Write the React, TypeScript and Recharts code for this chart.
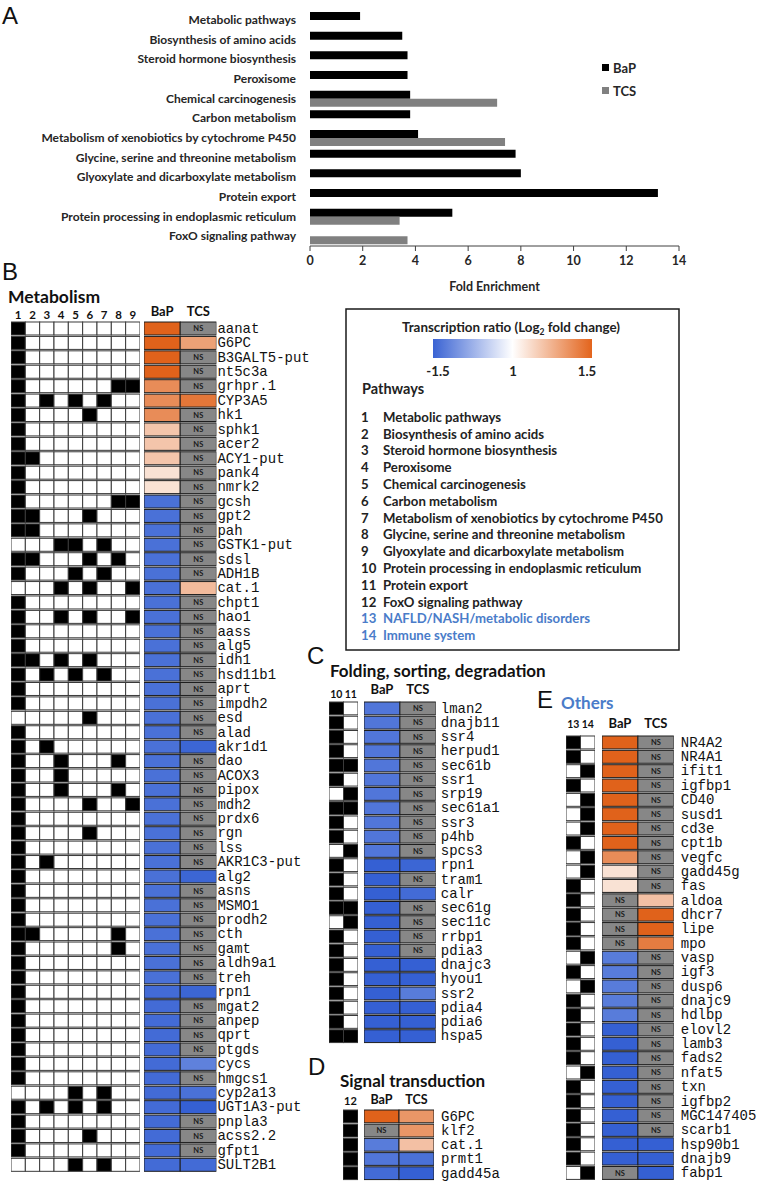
import React from 'react';
import { BarChart, Bar, XAxis, YAxis, Legend } from 'recharts';

// ---------------- Panel A : pathway fold enrichment ----------------
const pathwayNames = [
  'Metabolic pathways',
  'Biosynthesis of amino acids',
  'Steroid hormone biosynthesis',
  'Peroxisome',
  'Chemical carcinogenesis',
  'Carbon metabolism',
  'Metabolism of xenobiotics by cytochrome P450',
  'Glycine, serine and threonine metabolism',
  'Glyoxylate and dicarboxylate metabolism',
  'Protein export',
  'Protein processing in endoplasmic reticulum',
  'FoxO signaling pathway',
];
const bapFold = [1.9, 3.5, 3.7, 3.7, 3.8, 3.8, 4.1, 7.8, 8.0, 13.2, 5.4, null];
const tcsFold = [null, null, null, null, 7.1, null, 7.4, null, null, null, 3.4, 3.7];
const foldTicks = [0, 2, 4, 6, 8, 10, 12, 14];
const bandEdges = [0, 1, 2, 3, 4, 5, 6, 7, 8, 9, 10, 11, 12];

// ---------------- Legend box ----------------
const legendPathways = [
  'Metabolic pathways',
  'Biosynthesis of amino acids',
  'Steroid hormone biosynthesis',
  'Peroxisome',
  'Chemical carcinogenesis',
  'Carbon metabolism',
  'Metabolism of xenobiotics by cytochrome P450',
  'Glycine, serine and threonine metabolism',
  'Glyoxylate and dicarboxylate metabolism',
  'Protein processing in endoplasmic reticulum',
  'Protein export',
  'FoxO signaling pathway',
  'NAFLD/NASH/metabolic disorders',
  'Immune system',
];
const colorbarLabels = ['-1.5', '1', '1.5'];
const heatHeaders = ['BaP', 'TCS'];

// ---------------- Panel B : Metabolism ----------------
const genesB = [
  'aanat', 'G6PC', 'B3GALT5-put', 'nt5c3a', 'grhpr.1', 'CYP3A5', 'hk1', 'sphk1', 'acer2', 'ACY1-put',
  'pank4', 'nmrk2', 'gcsh', 'gpt2', 'pah', 'GSTK1-put', 'sdsl', 'ADH1B', 'cat.1', 'chpt1',
  'hao1', 'aass', 'alg5', 'idh1', 'hsd11b1', 'aprt', 'impdh2', 'esd', 'alad', 'akr1d1',
  'dao', 'ACOX3', 'pipox', 'mdh2', 'prdx6', 'rgn', 'lss', 'AKR1C3-put', 'alg2', 'asns',
  'MSMO1', 'prodh2', 'cth', 'gamt', 'aldh9a1', 'treh', 'rpn1', 'mgat2', 'anpep', 'qprt',
  'ptgds', 'cycs', 'hmgcs1', 'cyp2a13', 'UGT1A3-put', 'pnpla3', 'acss2.2', 'gfpt1', 'SULT2B1',
];
const pathwaysB = ['1', '2', '3', '4', '5', '6', '7', '8', '9'];
const memberB = [
  [1, 0, 0, 0, 0, 0, 0, 0, 0], // aanat
  [1, 0, 0, 0, 0, 0, 0, 0, 0], // G6PC
  [1, 0, 0, 0, 0, 0, 0, 0, 0], // B3GALT5-put
  [1, 0, 0, 0, 0, 0, 0, 0, 0], // nt5c3a
  [1, 0, 0, 0, 0, 0, 0, 1, 1], // grhpr.1
  [1, 0, 1, 0, 1, 0, 1, 0, 0], // CYP3A5
  [1, 0, 0, 0, 0, 1, 0, 0, 0], // hk1
  [1, 0, 0, 0, 0, 0, 0, 0, 0], // sphk1
  [1, 0, 0, 0, 0, 0, 0, 0, 0], // acer2
  [1, 1, 0, 0, 0, 0, 0, 0, 0], // ACY1-put
  [1, 0, 0, 0, 0, 0, 0, 0, 0], // pank4
  [1, 0, 0, 0, 0, 0, 0, 0, 0], // nmrk2
  [1, 0, 0, 0, 0, 0, 0, 1, 1], // gcsh
  [1, 1, 0, 0, 0, 1, 0, 0, 0], // gpt2
  [1, 1, 0, 0, 0, 0, 0, 0, 0], // pah
  [0, 0, 0, 1, 1, 0, 1, 0, 0], // GSTK1-put
  [1, 1, 0, 0, 0, 1, 0, 1, 0], // sdsl
  [1, 0, 0, 0, 1, 0, 1, 0, 0], // ADH1B
  [0, 0, 0, 1, 0, 1, 0, 0, 1], // cat.1
  [1, 0, 0, 0, 0, 0, 0, 0, 0], // chpt1
  [1, 0, 0, 1, 0, 1, 0, 0, 1], // hao1
  [1, 0, 0, 0, 0, 0, 0, 0, 0], // aass
  [1, 0, 0, 0, 0, 0, 0, 0, 0], // alg5
  [1, 1, 0, 1, 0, 1, 0, 0, 0], // idh1
  [1, 0, 1, 0, 1, 0, 1, 0, 0], // hsd11b1
  [1, 0, 0, 0, 0, 0, 0, 0, 0], // aprt
  [1, 0, 0, 0, 0, 0, 0, 0, 0], // impdh2
  [0, 0, 0, 0, 0, 1, 0, 0, 0], // esd
  [1, 0, 0, 0, 0, 0, 0, 0, 0], // alad
  [1, 0, 1, 0, 0, 0, 0, 0, 0], // akr1d1
  [1, 0, 0, 1, 0, 0, 0, 1, 0], // dao
  [1, 0, 0, 1, 0, 0, 0, 0, 0], // ACOX3
  [1, 0, 0, 1, 0, 0, 0, 1, 0], // pipox
  [1, 0, 0, 0, 0, 1, 0, 0, 1], // mdh2
  [1, 0, 0, 0, 0, 0, 0, 0, 0], // prdx6
  [1, 0, 0, 0, 0, 1, 0, 0, 0], // rgn
  [1, 0, 0, 0, 0, 0, 0, 0, 0], // lss
  [1, 0, 1, 0, 0, 0, 0, 0, 0], // AKR1C3-put
  [1, 0, 0, 0, 0, 0, 0, 0, 0], // alg2
  [1, 0, 0, 0, 0, 0, 0, 0, 0], // asns
  [1, 0, 0, 0, 0, 0, 0, 0, 0], // MSMO1
  [1, 0, 0, 0, 0, 0, 0, 0, 0], // prodh2
  [1, 1, 0, 0, 0, 0, 0, 1, 0], // cth
  [1, 0, 0, 0, 0, 0, 0, 1, 0], // gamt
  [1, 0, 0, 0, 0, 0, 0, 0, 0], // aldh9a1
  [1, 0, 0, 0, 0, 0, 0, 0, 0], // treh
  [1, 0, 0, 0, 0, 0, 0, 0, 0], // rpn1
  [1, 0, 0, 0, 0, 0, 0, 0, 0], // mgat2
  [1, 0, 0, 0, 0, 0, 0, 0, 0], // anpep
  [1, 0, 0, 0, 0, 0, 0, 0, 0], // qprt
  [1, 0, 0, 0, 0, 0, 0, 0, 0], // ptgds
  [1, 0, 0, 0, 0, 0, 0, 0, 0], // cycs
  [1, 0, 0, 0, 0, 0, 0, 0, 0], // hmgcs1
  [0, 0, 0, 0, 1, 0, 1, 0, 0], // cyp2a13
  [1, 0, 1, 0, 1, 0, 1, 0, 0], // UGT1A3-put
  [1, 0, 0, 0, 0, 0, 0, 0, 0], // pnpla3
  [1, 0, 0, 0, 0, 1, 0, 0, 0], // acss2.2
  [1, 0, 0, 0, 0, 0, 0, 0, 0], // gfpt1
  [0, 0, 0, 0, 1, 0, 1, 0, 0], // SULT2B1
];
// log2 fold change, null = NS
const bapB = [
  1.5, 1.5, 1.5, 1.5, 1.1, 1.1, 1.1, 0.55, 0.55, 0.55,
  0.28, 0.28, -1.3, -1.3, -1.3, -1.3, -1.3, -1.3, -1.3, -1.3,
  -1.3, -1.3, -1.3, -1.3, -1.3, -1.3, -1.3, -1.3, -1.3, -1.3,
  -1.3, -1.3, -1.3, -1.3, -1.3, -1.3, -1.3, -1.3, -1.3, -1.3,
  -1.3, -1.3, -1.3, -1.3, -1.3, -1.3, -1.35, -1.35, -1.35, -1.35,
  -1.35, -1.35, -1.35, -1.35, -1.35, -1.35, -1.35, -1.35, -1.35,
];
const tcsB = [
  null, 0.9, null, null, null, 1.3, null, null, null, null,
  null, null, null, null, null, null, null, null, 0.65, null,
  null, null, null, null, null, null, null, null, null, -1.4,
  null, null, null, null, null, null, null, null, -1.4, null,
  null, null, null, null, null, null, -1.4, null, null, null,
  null, -1.15, null, -1.3, -1.45, null, null, null, -1.35,
];

// ---------------- Panel C : Folding, sorting, degradation ----------------
const genesC = [
  'lman2', 'dnajb11', 'ssr4', 'herpud1', 'sec61b', 'ssr1', 'srp19', 'sec61a1', 'ssr3', 'p4hb',
  'spcs3', 'rpn1', 'tram1', 'calr', 'sec61g', 'sec11c', 'rrbp1', 'pdia3', 'dnajc3', 'hyou1',
  'ssr2', 'pdia4', 'pdia6', 'hspa5',
];
const pathwaysC = ['10', '11'];
const memberC = [
  [1, 0], [1, 0], [1, 0], [1, 0], [1, 1], [1, 0], [0, 1], [1, 1], [1, 0], [1, 0],
  [0, 1], [1, 0], [1, 0], [1, 0], [1, 1], [0, 1], [1, 0], [1, 0], [1, 0], [1, 0],
  [1, 0], [1, 0], [1, 0], [1, 1],
];
const bapC = [
  -1.25, -1.25, -1.25, -1.25, -1.25, -1.25, -1.25, -1.25, -1.25, -1.25,
  -1.25, -1.45, -1.45, -1.45, -1.45, -1.45, -1.45, -1.45, -1.45, -1.45,
  -1.45, -1.45, -1.45, -1.45,
];
const tcsC = [
  null, null, null, null, null, null, null, null, null, null,
  null, -1.4, null, -1.35, null, null, null, null, -1.45, -1.45,
  -1.2, -1.45, -1.45, -1.45,
];

// ---------------- Panel D : Signal transduction ----------------
const genesD = ['G6PC', 'klf2', 'cat.1', 'prmt1', 'gadd45a'];
const pathwaysD = ['12'];
const memberD = [[1], [1], [1], [1], [1]];
const bapD = [1.5, null, -1.2, -1.25, -1.35];
const tcsD = [1.0, 1.0, 0.6, -1.3, -1.45];

// ---------------- Panel E : Others ----------------
const genesE = [
  'NR4A2', 'NR4A1', 'ifit1', 'igfbp1', 'CD40', 'susd1', 'cd3e', 'cpt1b', 'vegfc', 'gadd45g',
  'fas', 'aldoa', 'dhcr7', 'lipe', 'mpo', 'vasp', 'igf3', 'dusp6', 'dnajc9', 'hdlbp',
  'elovl2', 'lamb3', 'fads2', 'nfat5', 'txn', 'igfbp2', 'MGC147405', 'scarb1', 'hsp90b1', 'dnajb9',
  'fabp1',
];
const pathwaysE = ['13', '14'];
const memberE = [
  [1, 0], [1, 0], [0, 1], [1, 0], [0, 1], [0, 1], [0, 1], [1, 0], [0, 1], [0, 1],
  [1, 0], [1, 0], [1, 0], [1, 0], [1, 0], [0, 1], [1, 0], [0, 1], [1, 0], [1, 0],
  [1, 0], [1, 0], [1, 0], [0, 1], [1, 0], [1, 0], [1, 0], [1, 0], [1, 0], [1, 0],
  [0, 1],
];
const bapE = [
  1.5, 1.5, 1.5, 1.5, 1.5, 1.5, 1.5, 1.5, 1.1, 0.28,
  0.28, null, null, null, null, -1.2, -1.2, -1.2, -1.2, -1.2,
  -1.45, -1.45, -1.45, -1.45, -1.45, -1.45, -1.45, -1.45, -1.45, -1.45,
  null,
];
const tcsE = [
  null, null, null, null, null, null, null, null, null, null,
  null, 0.6, 1.5, 1.5, 1.25, null, null, null, null, null,
  null, null, null, null, null, null, null, null, -1.45, -1.45,
  -1.45,
];

// ---------------- helpers ----------------
const ORANGE = [224, 98, 27];
const BLUE = [46, 91, 209];
const NS_GREY = '#878787';
const CELL_SPAN = 1;

function ratioColor(v: number) {
  const t = Math.min(Math.abs(v) / 1.5, 1);
  const c = v >= 0 ? ORANGE : BLUE;
  const mix = c.map((ch) => Math.round(255 + (ch - 255) * t));
  return `rgb(${mix.join(',')})`;
}

const SANS = 'Lato, "Open Sans", sans-serif';
const MONO = '"Liberation Mono", "DejaVu Sans Mono", monospace';

function CellShape(props: any) {
  const { x, y, width, height, value, mode } = props;
  if (mode === 'member') {
    return (
      <rect x={x} y={y} width={width} height={height} fill={value ? '#000' : '#fff'} stroke="#3a3a3a" strokeWidth={1} />
    );
  }
  const ns = value === null || value === undefined;
  return (
    <g>
      <rect x={x} y={y} width={width} height={height} fill={ns ? NS_GREY : ratioColor(value)} stroke="#1e1e1e" strokeWidth={1} />
      {ns ? (
        <text x={x + width / 2} y={y + height / 2 + 2.7} textAnchor="middle" fontFamily={SANS} fontWeight={700} fontSize={7.5} fill="#1a1a1a">
          NS
        </text>
      ) : null}
    </g>
  );
}

function GeneTick(props: any) {
  const { x, y, payload } = props;
  return (
    <text x={x} y={y} dy={4.6} textAnchor="start" fontFamily={MONO} fontSize={14} fill="#111">
      {payload.value}
    </text>
  );
}

function PathwayTick(props: any) {
  const { x, y, payload } = props;
  return (
    <text x={x} y={y} dy={4.2} textAnchor="end" fontFamily={SANS} fontWeight={700} fontSize={12} fill="#262626">
      {payload.value}
    </text>
  );
}

function HeatBlock(props: any) {
  const { left, top, rowH, colW, genes, headers, cells, mode, headerSize, headerGap, labelW, labelGap } = props;
  const data = genes.map((g: string, i: number) => {
    const row: any = { gene: g };
    headers.forEach((_: string, k: number) => {
      row['v' + k] = cells[i][k];
    });
    return row;
  });
  const headH = 26;
  const pad = 1;
  const plotW = colW * headers.length;
  const plotH = rowH * genes.length;
  return (
    <div style={{ position: 'absolute', left: left - pad, top: top - headH }}>
      <BarChart
        layout="vertical"
        width={plotW + labelW + 2 * pad}
        height={plotH + headH + pad}
        data={data}
        margin={{ top: 0, right: pad, bottom: pad, left: pad }}
        barCategoryGap={0}
        barGap={0}
        barSize={rowH}
      >
        <XAxis
          type="number"
          orientation="top"
          domain={[0, headers.length]}
          allowDataOverflow
          ticks={headers.map((_: string, k: number) => k + 0.5)}
          tickFormatter={(v: number) => headers[Math.floor(v)]}
          interval={0}
          height={headH}
          axisLine={false}
          tickLine={false}
          tickSize={0}
          tickMargin={headerGap}
          tick={{ fontFamily: SANS, fontWeight: 700, fontSize: headerSize, fill: '#111' }}
        />
        <YAxis
          type="category"
          dataKey="gene"
          orientation="right"
          width={labelW || 1}
          hide={!labelW}
          interval={0}
          axisLine={false}
          tickLine={false}
          tickSize={0}
          tickMargin={labelGap || 0}
          tick={<GeneTick />}
        />
        {headers.map((h: string, k: number) => (
          <Bar
            key={h}
            dataKey={() => CELL_SPAN}
            stackId="cells"
            isAnimationActive={false}
            shape={(p: any) => <CellShape {...p} value={p.payload['v' + k]} mode={mode} />}
          />
        ))}
      </BarChart>
    </div>
  );
}

function zip2(a: any[], b: any[]) {
  return a.map((v, i) => [v, b[i]]);
}

const LegendContent = (props: any) => (
  <div style={{ fontFamily: SANS, fontWeight: 700, fontSize: 13, color: '#262626' }}>
    {(props.payload || []).map((e: any) => (
      <div key={e.value} style={{ display: 'flex', alignItems: 'center', height: 23 }}>
        <span style={{ display: 'inline-block', width: 7, height: 7, background: e.color, marginRight: 4 }} />
        {e.value}
      </div>
    ))}
  </div>
);

export default function App() {
  const enrichData = pathwayNames.map((p, i) => ({ pathway: p, BaP: bapFold[i], TCS: tcsFold[i] }));
  const axisGrey = '#404040';
  const blueText = '#4A7CC9';
  const legendFs = 13.2;

  return (
    <div style={{ position: 'absolute', left: 0, top: 0, width: 762, height: 1184, background: '#fff' }}>
      {/* Panel A */}
      <div style={{ position: 'absolute', left: 0, top: 0 }}>
        <BarChart
          layout="vertical"
          width={700}
          height={300}
          data={enrichData}
          margin={{ top: 10, right: 21, bottom: 24, left: 10 }}
          barGap={0}
          barSize={8}
        >
          <XAxis
            type="number"
            domain={[0, 14]}
            ticks={foldTicks}
            interval={0}
            height={30}
            tickSize={5}
            tickMargin={5}
            axisLine={{ stroke: axisGrey }}
            tickLine={{ stroke: axisGrey }}
            tick={{ fontFamily: SANS, fontWeight: 700, fontSize: 12.5, fill: '#262626' }}
          />
          <YAxis
            yAxisId="frame"
            type="number"
            domain={[0, 12]}
            ticks={bandEdges}
            interval={0}
            allowDataOverflow
            width={0}
            tick={false}
            tickSize={5}
            axisLine={{ stroke: axisGrey }}
            tickLine={{ stroke: axisGrey }}
          />
          <YAxis
            yAxisId="cat"
            type="category"
            dataKey="pathway"
            width={300}
            interval={0}
            axisLine={false}
            tickLine={false}
            tickSize={0}
            tickMargin={14}
            tick={<PathwayTick />}
          />
          <Bar yAxisId="cat" dataKey="BaP" fill="#000000" isAnimationActive={false} />
          <Bar yAxisId="cat" dataKey="TCS" fill="#808080" isAnimationActive={false} />
          <Legend
            layout="vertical"
            align="center"
            verticalAlign="middle"
            content={LegendContent}
            wrapperStyle={{ left: 602, top: 56, width: 60 }}
          />
        </BarChart>
      </div>

      {/* Static text and legend box */}
      <svg width={762} height={1184} style={{ position: 'absolute', left: 0, top: 0 }}>
        <defs>
          <linearGradient id="ratioGrad" x1="0" x2="1" y1="0" y2="0">
            <stop offset="0%" stopColor="#3A63D3" />
            <stop offset="50%" stopColor="#ffffff" />
            <stop offset="100%" stopColor="#E3641C" />
          </linearGradient>
        </defs>
        <text x={2} y={24} fontFamily="Liberation Sans, Arial" fontSize={24} fill="#111">A</text>
        <text x={494.5} y={291} textAnchor="middle" fontFamily={SANS} fontWeight={700} fontSize={12.5} fill="#262626">Fold Enrichment</text>
        <text x={2} y={280} fontFamily="Liberation Sans, Arial" fontSize={24} fill="#111">B</text>
        <text x={8} y={303} fontFamily={SANS} fontWeight={700} fontSize={17.5} fill="#111">Metabolism</text>

        <rect x={346} y={309} width={333} height={341} fill="none" stroke="#1a1a1a" strokeWidth={1.5} />
        <text x={511} y={332} textAnchor="middle" fontFamily={SANS} fontWeight={700} fontSize={13.4} fill="#222">
          Transcription ratio (Log<tspan fontSize={8.5} dy={3}>2</tspan><tspan dy={-3}> fold change)</tspan>
        </text>
        <rect x={433} y={339} width={159} height={19} fill="url(#ratioGrad)" />
        {colorbarLabels.map((l, i) => (
          <text key={l} x={[438, 513, 587][i]} y={376} textAnchor="middle" fontFamily={SANS} fontWeight={700} fontSize={13.2} fill="#222">
            {l}
          </text>
        ))}
        <text x={362} y={394} fontFamily={SANS} fontWeight={700} fontSize={14.5} fill="#222">Pathways</text>
        {legendPathways.map((p, i) => (
          <g key={p} fill={i >= 12 ? blueText : '#222'} fontFamily={SANS} fontWeight={700} fontSize={legendFs}>
            <text x={361} y={421.7 + i * 16.8}>{i + 1}</text>
            <text x={383} y={421.7 + i * 16.8}>{p}</text>
          </g>
        ))}

        <text x={307} y={664} fontFamily="Liberation Sans, Arial" fontSize={24} fill="#111">C</text>
        <text x={330} y={677} fontFamily={SANS} fontWeight={700} fontSize={17} fill="#111">Folding, sorting, degradation</text>
        <text x={308} y={1075} fontFamily="Liberation Sans, Arial" fontSize={24} fill="#111">D</text>
        <text x={340} y={1087} fontFamily={SANS} fontWeight={700} fontSize={17} fill="#111">Signal transduction</text>
        <text x={537} y={708} fontFamily="Liberation Sans, Arial" fontSize={24} fill="#111">E</text>
        <text x={561} y={709} fontFamily={SANS} fontWeight={700} fontSize={17} fill={blueText}>Others</text>
      </svg>

      {/* Panel B */}
      <HeatBlock left={11} top={321} rowH={14.42} colW={14.33} genes={genesB} headers={pathwaysB} cells={memberB} mode="member" headerSize={11.5} headerGap={2} labelW={0} />
      <HeatBlock left={144.3} top={321} rowH={14.42} colW={36.2} genes={genesB} headers={heatHeaders} cells={zip2(bapB, tcsB)} mode="ratio" headerSize={13} headerGap={5} labelW={110} labelGap={1} />

      {/* Panel C */}
      <HeatBlock left={329.3} top={701} rowH={14.25} colW={14.5} genes={genesC} headers={pathwaysC} cells={memberC} mode="member" headerSize={10.5} headerGap={3} labelW={0} />
      <HeatBlock left={364} top={701} rowH={14.25} colW={35.9} genes={genesC} headers={heatHeaders} cells={zip2(bapC, tcsC)} mode="ratio" headerSize={13} headerGap={7} labelW={90} labelGap={5} />

      {/* Panel D */}
      <HeatBlock left={343} top={1109} rowH={14.2} colW={15} genes={genesD} headers={pathwaysD} cells={memberD} mode="member" headerSize={11} headerGap={4} labelW={0} />
      <HeatBlock left={364} top={1109} rowH={14.2} colW={35} genes={genesD} headers={heatHeaders} cells={zip2(bapD, tcsD)} mode="ratio" headerSize={12.5} headerGap={5} labelW={90} labelGap={7} />

      {/* Panel E */}
      <HeatBlock left={566} top={735} rowH={14.35} colW={14.5} genes={genesE} headers={pathwaysE} cells={memberE} mode="member" headerSize={10.5} headerGap={7} labelW={0} />
      <HeatBlock left={602} top={735} rowH={14.35} colW={35.9} genes={genesE} headers={heatHeaders} cells={zip2(bapE, tcsE)} mode="ratio" headerSize={13} headerGap={7} labelW={86} labelGap={7} />
    </div>
  );
}
